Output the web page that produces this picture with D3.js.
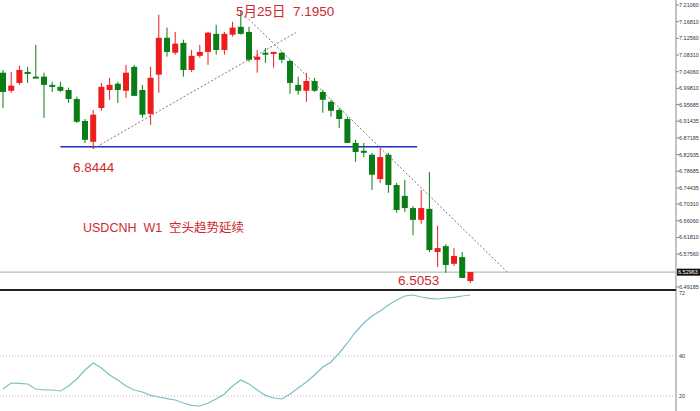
<!DOCTYPE html>
<html><head><meta charset="utf-8">
<script src="https://cdn.jsdelivr.net/npm/d3@7/dist/d3.min.js"></script>
<style>body{margin:0;background:#fff}svg{display:block}text{white-space:pre}</style>
</head><body><svg id="c" width="700" height="411"></svg>
<script>
const opens=[7.038,6.992,7.012,7.040,7.028,7.028,7.007,7.002,6.994,6.971,6.915,6.862,6.948,6.994,7.010,6.992,7.053,6.994,6.933,7.033,7.127,7.089,7.114,7.045,7.081,7.091,7.137,7.096,7.135,7.155,7.142,7.071,7.089,7.086,7.089,7.068,7.007,6.992,7.017,6.989,6.964,6.943,6.920,6.859,6.839,6.829,6.767,6.829,6.752,6.724,6.693,6.663,6.691,6.581,6.596,6.551,6.568,6.507];
const highs=[7.045,7.040,7.056,7.053,7.109,7.038,7.015,7.015,7.000,6.977,6.920,6.943,7.012,7.025,7.015,7.058,7.058,7.007,7.053,7.186,7.153,7.142,7.122,7.096,7.109,7.142,7.160,7.142,7.168,7.195,7.155,7.096,7.101,7.091,7.091,7.071,7.028,7.038,7.025,6.994,6.969,6.948,6.926,6.867,6.859,6.834,6.846,6.834,6.757,6.765,6.698,6.739,6.785,6.648,6.601,6.591,6.581,6.530];
const lows=[6.948,6.987,7.007,7.012,7.025,6.923,6.989,6.989,6.961,6.910,6.859,6.844,6.941,6.969,6.961,6.974,6.979,6.923,6.905,6.987,7.079,7.084,7.028,7.040,7.076,7.058,7.084,7.084,7.130,7.135,7.066,7.038,7.063,7.051,7.063,6.984,6.982,6.964,6.989,6.936,6.926,6.897,6.859,6.811,6.823,6.739,6.757,6.732,6.681,6.683,6.624,6.653,6.581,6.543,6.528,6.546,6.515,6.502];
const closes=[6.989,7.005,7.045,7.035,7.027,7.007,7.002,6.992,6.971,6.913,6.867,6.931,7.002,7.007,6.994,7.038,6.979,6.931,7.025,7.127,7.091,7.112,7.045,7.081,7.091,7.140,7.096,7.137,7.153,7.137,7.071,7.079,7.086,7.091,7.071,7.012,6.992,7.017,6.992,6.969,6.941,6.920,6.859,6.836,6.834,6.778,6.823,6.752,6.688,6.693,6.663,6.693,6.586,6.591,6.548,6.571,6.515,6.530];
const osc=[23.5,26.5,26.3,26,23.5,23,23,22.5,25,28.5,33,36.5,34,30.5,28,25,23,22,20.3,19.5,18.7,18,16.5,15.3,15,16.5,18.5,21,25,28,26,23,20.3,19,18.5,21,24,27,30.5,34.5,37,41.5,46.5,52,56.5,60,62.5,65.5,68,70,70.5,69.5,68.8,68.5,69,69.3,70,70.5];
const priceTicks=[7.21060,7.16810,7.12560,7.08310,7.04060,6.99810,6.95685,6.91435,6.87185,6.82935,6.78685,6.74435,6.70310,6.66060,6.61810,6.57560,6.49185];
const oscTicks=[72,40,20];
const current=6.52963, support=6.8444, blueLevel=6.849;

const svg=d3.select("#c");
const x=d3.scaleLinear().domain([0,57]).range([3,470.4]);
const y=d3.scaleLinear().domain([6.49185,7.21060]).range([287,5]);
const yo=d3.scaleLinear().domain([20,72]).range([396,292]);
const AX=676;
const UP="#ee1c1c", DN="#0b7d16";

svg.append("line").attr("x1",AX).attr("x2",AX).attr("y1",0).attr("y2",411).attr("stroke","#888");
priceTicks.forEach(t=>{
  svg.append("line").attr("x1",AX).attr("x2",AX+3).attr("y1",y(t)).attr("y2",y(t)).attr("stroke","#888");
  svg.append("text").attr("x",AX+3).attr("y",y(t)+2).attr("font-size",5.5).attr("font-family","Arial").attr("fill","#333").text(t.toFixed(5));
});
svg.append("line").attr("x1",0).attr("x2",AX).attr("y1",y(current)).attr("y2",y(current)).attr("stroke","#bbb").attr("stroke-width",1.2);
svg.append("rect").attr("x",AX+1).attr("y",y(current)-3.5).attr("width",23).attr("height",7).attr("fill","#111");
svg.append("text").attr("x",AX+2).attr("y",y(current)+2).attr("font-size",5.5).attr("font-family","Arial").attr("fill","#fff").text(current.toFixed(5));
svg.append("line").attr("x1",0).attr("x2",AX).attr("y1",290).attr("y2",290).attr("stroke","#222").attr("stroke-width",2);

oscTicks.forEach(t=>{
  if(t!==72) svg.append("line").attr("x1",0).attr("x2",AX).attr("y1",yo(t)).attr("y2",yo(t)).attr("stroke","#bbb").attr("stroke-dasharray","1,2");
  svg.append("text").attr("x",AX+3).attr("y",yo(t)+2+(t===72?1:0)).attr("font-size",5.5).attr("font-family","Arial").attr("fill","#333").text(t);
});
svg.append("path").datum(osc).attr("fill","none").attr("stroke","#7bbfc4").attr("stroke-width",1.2)
  .attr("d",d3.line().x((d,i)=>x(i)).y(d=>yo(d)));

svg.append("line").attr("x1",x(7)).attr("x2",x(50.5)).attr("y1",y(blueLevel)).attr("y2",y(blueLevel)).attr("stroke","#1a2fc0").attr("stroke-width",1.5);
svg.append("line").attr("x1",x(11)).attr("y1",y(support)).attr("x2",x(35.7)).attr("y2",y(7.140)).attr("stroke","#777").attr("stroke-dasharray","2,2");
svg.append("line").attr("x1",x(29.6)).attr("y1",y(7.182)).attr("x2",x(61.5)).attr("y2",y(6.530)).attr("stroke","#777").attr("stroke-dasharray","2,2");

const g=svg.append("g");
d3.range(opens.length).forEach(i=>{
  const o=opens[i],c=closes[i],col=c>=o?UP:DN;
  g.append("line").attr("x1",x(i)).attr("x2",x(i)).attr("y1",y(highs[i])).attr("y2",y(lows[i])).attr("stroke",col).attr("stroke-width",1);
  const t=y(Math.max(o,c)),b=y(Math.min(o,c));
  g.append("rect").attr("x",x(i)-3).attr("width",6).attr("y",t).attr("height",Math.max(2,b-t)).attr("fill",col);
});

const red="#d0282e";
const txt=(s,xx,yy,fs)=>svg.append("text").attr("x",xx).attr("y",yy).attr("font-size",fs).attr("font-family","Arial, 'Noto Sans CJK SC'").attr("fill",red).attr("xml:space","preserve").text(s);
txt("5月25日  7.1950",236,16,13.5);
txt("6.8444",73,172,13.5);
txt("6.5053",398,285,13.5);
txt("USDCNH  W1  空头趋势延续",83,232,12.5);
</script></body></html>
